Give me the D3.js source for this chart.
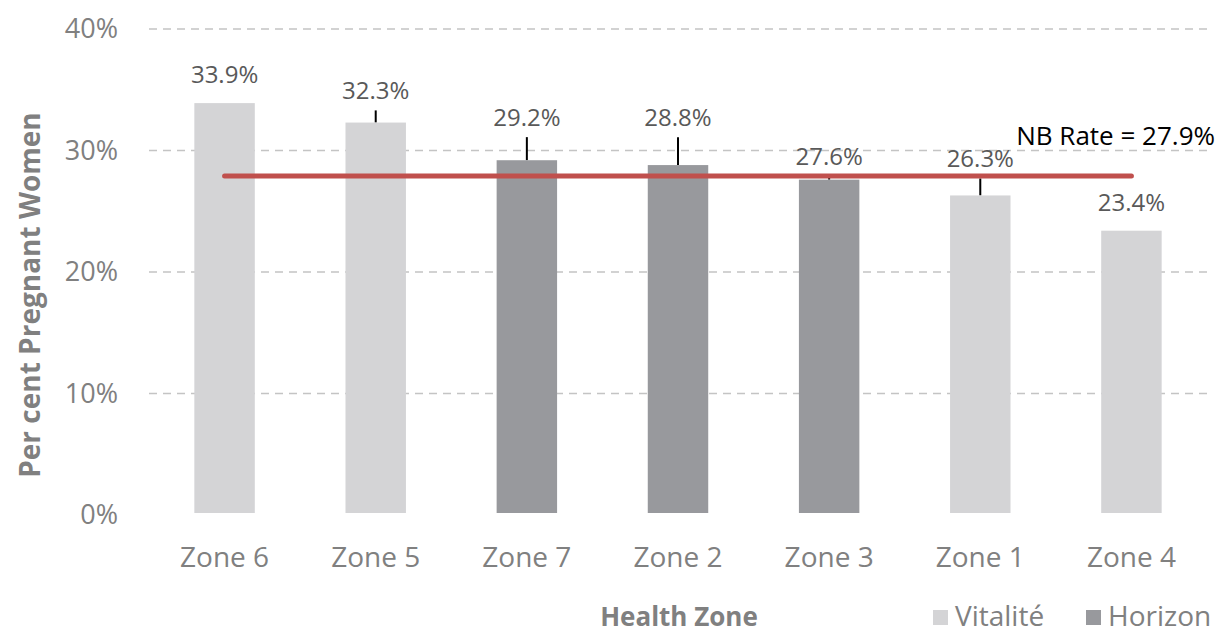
<!DOCTYPE html>
<html>
<head>
<meta charset="utf-8">
<script src="https://cdn.jsdelivr.net/npm/d3@7"></script>
<style>
body { margin: 0; background: #fff; }
text { font-family: "Open Sans", sans-serif; }
</style>
</head>
<body>
<svg></svg>
<script>
var zones = ["Zone 6", "Zone 5", "Zone 7", "Zone 2", "Zone 3", "Zone 1", "Zone 4"];
var rates = [33.9, 32.3, 29.2, 28.8, 27.6, 26.3, 23.4];
var upperErr = [0, 1.0, 1.9, 2.3, 0.3, 1.4, 0];
var network = ["Vitalité", "Vitalité", "Horizon", "Horizon", "Horizon", "Vitalité", "Vitalité"];
var yTicks = [0, 10, 20, 30, 40];
var nbRate = 27.9;

var screen = {width: 1222, height: 633};
var margins = {top: 29, right: 15, bottom: 118, left: 149};
var width = screen.width - margins.left - margins.right;
var height = screen.height - margins.top - margins.bottom;

var colors = {"Vitalité": "#d4d4d6", "Horizon": "#98999d"};

var svg = d3.select("svg")
    .attr("width", screen.width)
    .attr("height", screen.height);

var g = svg.append("g")
    .attr("transform", "translate(" + margins.left + "," + margins.top + ")");

var xScale = d3.scaleBand().domain(zones).range([0, width]);
var yScale = d3.scaleLinear().domain([0, 40]).range([height, 0]);
var barW = xScale.bandwidth() * 0.4;

// gridlines
g.selectAll(".grid")
    .data(yTicks.slice(1))
    .enter().append("line")
    .attr("x1", 0).attr("x2", width)
    .attr("y1", function(d) { return yScale(d); })
    .attr("y2", function(d) { return yScale(d); })
    .attr("stroke", "#c4c4c4")
    .attr("stroke-width", 1.5)
    .attr("stroke-dasharray", "8,6");

// y tick labels
g.selectAll(".ytick")
    .data(yTicks)
    .enter().append("text")
    .attr("x", -31)
    .attr("y", function(d) { return yScale(d); })
    .attr("dy", "0.35em")
    .attr("text-anchor", "end")
    .attr("font-size", 27)
    .attr("fill", "#808080")
    .text(function(d) { return d + "%"; });

var cx = function(i) { return xScale(zones[i]) + xScale.bandwidth() / 2; };

// error bars (upper part only shows)
g.selectAll(".err")
    .data(rates)
    .enter().append("line")
    .attr("x1", function(d, i) { return cx(i); })
    .attr("x2", function(d, i) { return cx(i); })
    .attr("y1", function(d) { return yScale(d); })
    .attr("y2", function(d, i) { return yScale(d + upperErr[i]); })
    .attr("stroke", "#000")
    .attr("stroke-width", 2);

// bars
g.selectAll(".bar")
    .data(rates)
    .enter().append("rect")
    .attr("x", function(d, i) { return cx(i) - barW / 2; })
    .attr("y", function(d) { return yScale(d); })
    .attr("width", barW)
    .attr("height", function(d) { return height - yScale(d) - 2; })
    .attr("fill", function(d, i) { return colors[network[i]]; });

// value labels
g.selectAll(".val")
    .data(rates)
    .enter().append("text")
    .attr("x", function(d, i) { return cx(i); })
    .attr("y", function(d, i) {
        return upperErr[i] > 0 ? yScale(d + upperErr[i]) - 11 : yScale(d) - 20;
    })
    .attr("text-anchor", "middle")
    .attr("font-size", 24)
    .attr("fill", "#595959")
    .text(function(d) { return d.toFixed(1) + "%"; });

// NB rate line
g.append("line")
    .attr("x1", cx(0)).attr("x2", cx(zones.length - 1))
    .attr("y1", yScale(nbRate)).attr("y2", yScale(nbRate))
    .attr("stroke", "#c0504d")
    .attr("stroke-width", 5)
    .attr("stroke-linecap", "round");

g.append("text")
    .attr("x", width + 8)
    .attr("y", yScale(nbRate) - 31)
    .attr("text-anchor", "end")
    .attr("font-size", 26)
    .attr("fill", "#000")
    .text("NB Rate = " + nbRate + "%");

// x tick labels
g.selectAll(".xtick")
    .data(zones)
    .enter().append("text")
    .attr("x", function(d, i) { return cx(i); })
    .attr("y", height + 52)
    .attr("text-anchor", "middle")
    .attr("font-size", 28)
    .attr("fill", "#808080")
    .text(function(d) { return d; });

// axis titles
svg.append("text")
    .attr("transform", "translate(40,295) rotate(-90)")
    .attr("text-anchor", "middle")
    .attr("font-size", 28)
    .attr("font-weight", "bold")
    .attr("fill", "#808080")
    .text("Per cent Pregnant Women");

svg.append("text")
    .attr("x", 679)
    .attr("y", 626)
    .attr("text-anchor", "middle")
    .attr("font-size", 26)
    .attr("font-weight", "bold")
    .attr("fill", "#808080")
    .text("Health Zone");

// legend
var legend = svg.append("g").attr("transform", "translate(933,0)");
var legendItems = ["Vitalité", "Horizon"];
var legendX = [0, 153];
legendItems.forEach(function(name, i) {
    legend.append("rect")
        .attr("x", legendX[i])
        .attr("y", 610)
        .attr("width", 15)
        .attr("height", 15)
        .attr("fill", colors[name]);
    legend.append("text")
        .attr("x", legendX[i] + 22)
        .attr("y", 626)
        .attr("font-size", 28)
        .attr("fill", "#808080")
        .text(name);
});
</script>
</body>
</html>
